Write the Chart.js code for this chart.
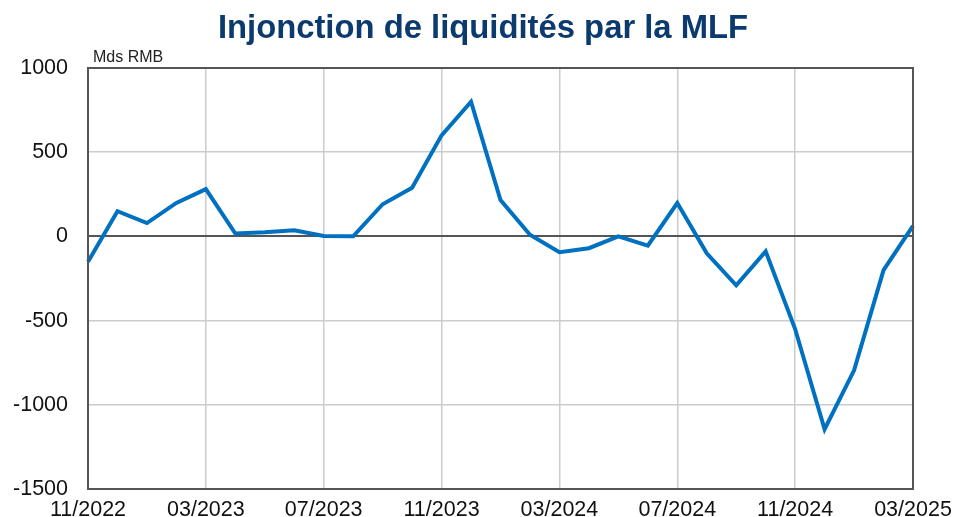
<!DOCTYPE html>
<html>
<head>
<meta charset="utf-8">
<script src="https://cdn.jsdelivr.net/npm/chart.js@4.4.1/dist/chart.umd.min.js"></script>
<style>
  html, body { margin: 0; padding: 0; background: #fff; }
  #wrap { width: 955px; height: 517px; }
</style>
</head>
<body>
<div id="wrap"><canvas id="chart_1" width="955" height="517"></canvas></div>
<script>
// mois, de 11/2022 a 03/2025
var months = ["11/2022", "12/2022", "01/2023", "02/2023", "03/2023", "04/2023", "05/2023", "06/2023",
  "07/2023", "08/2023", "09/2023", "10/2023", "11/2023", "12/2023", "01/2024", "02/2024",
  "03/2024", "04/2024", "05/2024", "06/2024", "07/2024", "08/2024", "09/2024", "10/2024",
  "11/2024", "12/2024", "01/2025", "02/2025", "03/2025"];
// injection nette MLF, Mds RMB
var netInjection = [-150, 150, 79, 199, 281, 17, 25, 37, 3, 1, 191, 289, 600, 800, 216, 10,
  -94, -70, 0, -55, 198, -100, -290, -89, -550, -1145, -795, -200, 63];
var yTicks = [-1500, -1000, -500, 0, 500, 1000];

var FONT = "'Liberation Sans', Arial, sans-serif";

// titre + libelle d'unite, dessines a la main
var texts = {
  id: 'texts',
  afterDraw(chart) {
    var ctx = chart.ctx;
    ctx.save();
    ctx.textBaseline = 'alphabetic';
    ctx.fillStyle = '#0B3A6F';
    ctx.font = "bold 32.8px " + FONT;
    ctx.textAlign = 'center';
    ctx.fillText("Injonction de liquidités par la MLF", 483, 38);
    ctx.font = "16px " + FONT;
    ctx.fillStyle = '#222';
    ctx.textAlign = 'left';
    ctx.fillText('Mds RMB', chart.chartArea.left + 5, chart.chartArea.top - 6);
    ctx.restore();
  }
};

var myChart = new Chart("chart_1", {
  type: "line",
  data: {
    labels: months,
    datasets: [{
      label: 'MLF',
      data: netInjection,
      borderColor: '#0070C0',
      borderWidth: 4,
      pointRadius: 0,
      tension: 0,
      fill: false
    }]
  },
  options: {
    responsive: false,
    animation: false,
    layout: { padding: { left: 0, right: 42, top: 68, bottom: 0 } },
    plugins: {
      legend: { display: false },
      tooltip: { enabled: false },
      title: { display: false }
    },
    scales: {
      x: {
        offset: false,
        grid: {
          color: function (c) { return c.index % 4 === 0 ? '#cccccc' : 'rgba(0,0,0,0)'; },
          lineWidth: 1.5,
          drawTicks: true,
          tickLength: 8,
          tickColor: 'rgba(0,0,0,0)'
        },
        border: { color: '#555', width: 2 },
        ticks: {
          autoSkip: false,
          maxRotation: 0,
          padding: 0,
          color: '#111',
          font: { family: FONT, size: 21.5 },
          callback: function (v, i) { return i % 4 === 0 ? months[i] : ''; }
        },
        afterFit: function (s) { s.height = 28; }
      },
      y: {
        min: -1500,
        max: 1000,
        afterBuildTicks: function (s) { s.ticks = yTicks.map(function (v) { return { value: v }; }); },
        grid: {
          color: function (c) { return c.tick && c.tick.value === 0 ? '#555' : '#cccccc'; },
          lineWidth: function (c) { return c.tick && c.tick.value === 0 ? 2 : 1.5; },
          drawTicks: true,
          tickLength: 20,
          tickColor: 'rgba(0,0,0,0)'
        },
        border: { color: '#555', width: 2 },
        ticks: {
          padding: 0,
          color: '#111',
          font: { family: FONT, size: 21.5 },
          callback: function (v) { return String(v); }
        },
        afterFit: function (s) { s.width = 88; }
      }
    }
  },
  plugins: [texts, {
    id: 'frame',
    afterDraw(chart) {
      var a = chart.chartArea, ctx = chart.ctx;
      ctx.save();
      ctx.strokeStyle = '#555';
      ctx.lineWidth = 2;
      ctx.strokeRect(a.left, a.top, a.right - a.left, a.bottom - a.top);
      ctx.restore();
    }
  }]
});
</script>
</body>
</html>
